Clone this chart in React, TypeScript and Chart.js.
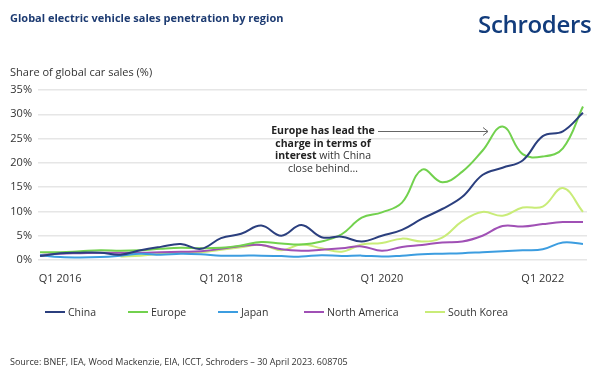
import React, { useEffect, useRef } from "react";
import { Chart, registerables } from "chart.js";

Chart.register(...registerables);

const quarters = [
  "Q4 2015",
  "Q1 2016", "Q2 2016", "Q3 2016", "Q4 2016",
  "Q1 2017", "Q2 2017", "Q3 2017", "Q4 2017",
  "Q1 2018", "Q2 2018", "Q3 2018", "Q4 2018",
  "Q1 2019", "Q2 2019", "Q3 2019", "Q4 2019",
  "Q1 2020", "Q2 2020", "Q3 2020", "Q4 2020",
  "Q1 2021", "Q2 2021", "Q3 2021", "Q4 2021",
  "Q1 2022", "Q2 2022", "Q3 2022",
];

const tickLabels = ["Q1 2016", "Q1 2018", "Q1 2020", "Q1 2022"];

const china = [0.8, 1.4, 1.5, 1.5, 1.1, 2.0, 2.7, 3.3, 2.3, 4.5, 5.4, 7.1, 5.0, 7.2, 4.7, 4.8, 3.8, 5.0, 6.2, 8.5, 10.5, 13.0, 17.5, 19.0, 20.5, 25.5, 26.5, 30.3];
const europe = [1.6, 1.6, 1.8, 2.0, 1.9, 2.0, 2.3, 2.5, 2.4, 2.5, 3.0, 3.7, 3.4, 3.2, 3.8, 5.3, 8.7, 9.8, 11.8, 18.6, 16.0, 18.2, 22.5, 27.5, 21.8, 21.3, 23.0, 31.6];
const japan = [1.0, 0.6, 0.5, 0.6, 0.9, 1.3, 1.1, 1.3, 1.2, 0.9, 0.9, 0.9, 0.8, 0.7, 1.0, 0.8, 0.9, 0.7, 0.9, 1.2, 1.3, 1.4, 1.6, 1.8, 2.0, 2.2, 3.6, 3.3];
const northAmerica = [1.0, 1.3, 1.4, 1.5, 1.5, 1.5, 1.6, 1.7, 1.8, 2.3, 2.9, 3.1, 2.2, 1.9, 2.1, 2.4, 2.8, 1.9, 2.7, 3.1, 3.6, 3.8, 5.0, 7.0, 6.9, 7.4, 7.8, 7.8];
const southKorea = [null, null, null, null, 0.7, 0.9, 1.3, 1.5, 1.6, 2.1, 2.6, 3.1, 2.0, 3.2, 2.4, 1.7, 3.2, 3.5, 4.4, 3.8, 4.6, 8.0, 9.9, 9.1, 10.8, 11.0, 14.8, 9.9];

const seriesNames = ["China", "Europe", "Japan", "North America", "South Korea"];
const seriesColors = ["#2b3f7e", "#72d14e", "#3c9de0", "#a050b5", "#c9ec78"];
const seriesValues = [china, europe, japan, northAmerica, southKorea];

const yTicks = [0, 5, 10, 15, 20, 25, 30, 35];

const FONT = "'Open Sans', 'Noto Sans', sans-serif";

const arrowPlugin = {
  id: "annotArrow",
  afterDraw(chart: any) {
    const ctx = chart.ctx;
    ctx.save();
    ctx.strokeStyle = "#666";
    ctx.lineWidth = 1;
    ctx.beginPath();
    ctx.moveTo(378, 131.5);
    ctx.lineTo(488, 131.5);
    ctx.stroke();
    ctx.beginPath();
    ctx.moveTo(483, 127.5);
    ctx.lineTo(488, 131.5);
    ctx.lineTo(483, 135.5);
    ctx.stroke();
    ctx.restore();
  },
};

function ChartCanvas() {
  const ref = useRef<HTMLCanvasElement | null>(null);
  useEffect(() => {
    if (!ref.current) return;
    const chart = new Chart(ref.current, {
      type: "line",
      data: {
        datasets: seriesValues.map((vals, k) => ({
          label: seriesNames[k],
          data: vals.map((v, i) => ({ x: i, y: v })),
          borderColor: seriesColors[k],
          backgroundColor: seriesColors[k],
          borderWidth: 2,
          pointRadius: 0,
          tension: 0.4,
          fill: false,
          spanGaps: false,
        })),
      },
      options: {
        animation: false,
        responsive: false,
        maintainAspectRatio: false,
        layout: { padding: { top: 90, right: 13, left: 0, bottom: 0 } },
        plugins: { legend: { display: false }, tooltip: { enabled: false } },
        scales: {
          x: {
            type: "linear",
            min: -0.1,
            max: 27.2,
            grid: { display: false },
            border: { display: false },
            afterFit: (s: any) => {
              s.height = 119;
            },
            afterBuildTicks: (s: any) => {
              s.ticks = tickLabels.map((t) => ({ value: quarters.indexOf(t) }));
            },
            ticks: {
              padding: 4,
              maxRotation: 0,
              autoSkip: false,
              color: "#333",
              font: { family: FONT, size: 11 },
              callback: (v: any) => quarters[Number(v)] ?? "",
            },
          },
          y: {
            min: 0,
            max: 35,
            afterFit: (s: any) => {
              s.width = 38;
            },
            afterBuildTicks: (s: any) => {
              s.ticks = yTicks.map((v) => ({ value: v }));
            },
            grid: { color: "#e6e6e6", lineWidth: 1.5, drawTicks: false },
            border: { display: false },
            ticks: {
              padding: 6,
              color: "#333",
              font: { family: FONT, size: 11 },
              callback: (v: any) => v + "%",
            },
          },
        },
      },
      plugins: [arrowPlugin],
    });
    return () => chart.destroy();
  }, []);
  return <canvas ref={ref} width={600} height={379} style={{ position: "absolute", left: 0, top: 0 }} />;
}

const legendLefts = [45, 128, 218, 304, 425];

export default function App() {
  const abs = (s: React.CSSProperties): React.CSSProperties => ({ position: "absolute", whiteSpace: "nowrap", ...s });
  return (
    <div style={{ position: "absolute", left: 0, top: 0, width: 600, height: 379, background: "#fff", fontFamily: FONT, overflow: "hidden" }}>
      <ChartCanvas />
      <div style={abs({ left: 10, top: 10, fontSize: 11, fontWeight: 700, color: "#1d3b72" })}>
        Global electric vehicle sales penetration by region
      </div>
      <div style={abs({ left: 478, top: 7, fontSize: 24, fontWeight: 600, color: "#123c7c", letterSpacing: -0.3 })}>
        Schroders
      </div>
      <div style={abs({ left: 10, top: 64, fontSize: 11, color: "#333" })}>Share of global car sales (%)</div>
      <div style={abs({ left: 323, top: 124, transform: "translateX(-50%)", fontSize: 10.5, lineHeight: "12.5px", color: "#333", textAlign: "center" })}>
        <b style={{ color: "#222" }}>Europe has lead the</b>
        <br />
        <b style={{ color: "#222" }}>charge in terms of</b>
        <br />
        <b style={{ color: "#222" }}>interest</b> with China
        <br />
        close behind...
      </div>
      {seriesNames.map((n, k) => (
        <div key={n} style={abs({ left: legendLefts[k], top: 305, display: "flex", alignItems: "center", fontSize: 10.5, color: "#333" })}>
          <span style={{ display: "inline-block", width: 20, height: 2, background: seriesColors[k], marginRight: 3 }} />
          {n}
        </div>
      ))}
      <div style={abs({ left: 10, top: 355, fontSize: 9, color: "#333" })}>
        Source: BNEF, IEA, Wood Mackenzie, EIA, ICCT, Schroders – 30 April 2023. 608705
      </div>
    </div>
  );
}
